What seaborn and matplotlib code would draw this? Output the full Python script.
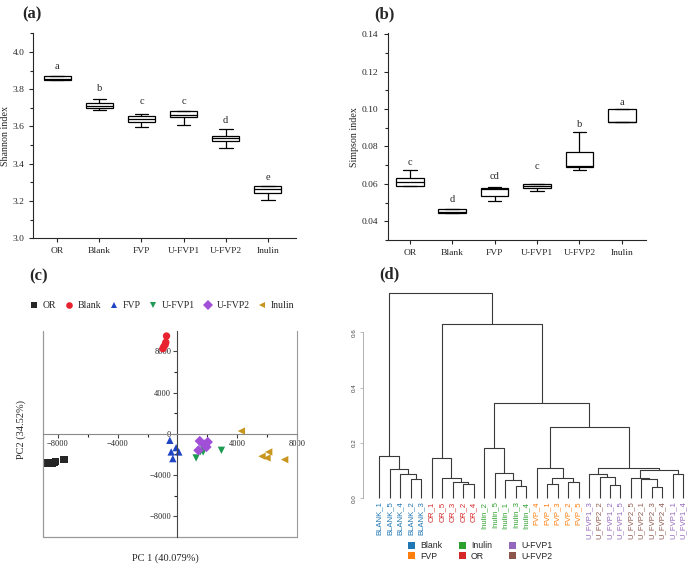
import numpy as np
import pandas as pd
import matplotlib
matplotlib.use("Agg")
import matplotlib.pyplot as plt
import seaborn as sns
from matplotlib.ticker import MultipleLocator, FixedLocator, FormatStrFormatter
from matplotlib.patches import Patch

# ---------------- data ----------------
groups = ["OR", "Blank", "FVP", "U-FVP1", "U-FVP2", "Inulin"]

# (a) Shannon index five-number summaries
shannon_min = [3.848, 3.690, 3.597, 3.608, 3.487, 3.203]
shannon_q1 = [3.848, 3.697, 3.625, 3.651, 3.520, 3.244]
shannon_med = [3.856, 3.711, 3.640, 3.663, 3.538, 3.267]
shannon_q3 = [3.873, 3.724, 3.654, 3.681, 3.550, 3.281]
shannon_max = [3.873, 3.749, 3.665, 3.685, 3.588, 3.281]
shannon_letters = ["a", "b", "c", "c", "d", "e"]
shannon_letter_y = [3.923, 3.806, 3.735, 3.735, 3.633, 3.326]

# (b) Simpson index five-number summaries
simpson_min = [0.0588, 0.0445, 0.0507, 0.0564, 0.0673, 0.0930]
simpson_q1 = [0.0588, 0.0445, 0.0536, 0.0579, 0.0688, 0.0930]
simpson_med = [0.0611, 0.0448, 0.0575, 0.0589, 0.0696, 0.0930]
simpson_q3 = [0.0630, 0.0466, 0.0579, 0.0598, 0.0770, 0.0998]
simpson_max = [0.0675, 0.0466, 0.0582, 0.0600, 0.0875, 0.0998]
simpson_letters = ["c", "d", "cd", "c", "b", "a"]
simpson_letter_y = [0.0713, 0.0518, 0.0638, 0.0695, 0.0918, 0.1034]

# (c) PCA scores
pc1_OR = [-8667, -8356, -8244, -8133, -7578]
pc2_OR = [-2839, -2839, -2774, -2710, -2484]
pc1_Blank = [-733, -778, -822, -911, -978]
pc2_Blank = [9484, 8871, 8645, 8452, 8258]
pc1_FVP = [-511, -89, -422, 89, -311]
pc2_FVP = [-645, -1355, -1774, -1774, -2419]
pc1_UFVP1 = [1244, 1711, 1533, 2933, 1756]
pc2_UFVP1 = [-2355, -1774, -1742, -1613, -1548]
pc1_UFVP2 = [1489, 2022, 1933, 1800, 1400]
pc2_UFVP2 = [-710, -806, -1290, -1065, -1613]
pc1_Inulin = [4267, 5644, 5978, 6089, 7156]
pc2_Inulin = [258, -2194, -2355, -1774, -2516]

# (d) hierarchical clustering tree: (left, right, merge height)
tree_blank = ("BLANK_1", ("BLANK_5", ("BLANK_4", ("BLANK_2", "BLANK_3", 0.069), 0.088), 0.105), 0.153)
tree_or = ("OR_1", ("OR_5", ("OR_3", ("OR_2", "OR_4", 0.051), 0.058), 0.075), 0.147)
tree_inulin = ("Inulin_2", ("Inulin_5", ("Inulin_1", ("Inulin_3", "Inulin_4", 0.044), 0.065), 0.090), 0.181)
tree_fvp = ("FVP_4", (("FVP_1", "FVP_3", 0.051), ("FVP_2", "FVP_5", 0.060), 0.075), 0.108)
tree_u_left = ("U_FVP1_3", ("U_FVP2_2", ("U_FVP1_2", "U_FVP1_5", 0.048), 0.078), 0.087)
tree_u_right = (("U_FVP2_5", ("U_FVP2_1", ("U_FVP2_3", "U_FVP2_4", 0.041), 0.069), 0.075),
                ("U_FVP1_1", "U_FVP1_4", 0.087), 0.102)
tree_u = (tree_u_left, tree_u_right, 0.110)
tree_root = (tree_blank, (tree_or, (tree_inulin, (tree_fvp, tree_u, 0.259), 0.343), 0.630), 0.741)
dendro_groups = ["Blank", "FVP", "Inulin", "OR", "U-FVP1", "U-FVP2"]

# ---------------- style ----------------
sns.set_style("ticks")
plt.rcParams["font.family"] = ["Liberation Serif", "DejaVu Sans"]
plt.rcParams["axes.linewidth"] = 0.8

fig = plt.figure(figsize=(6.96, 5.66), dpi=100)
W, H = 696.0, 566.0


def ax_px(x0, y0, x1, y1):
    return fig.add_axes([x0 / W, 1 - y1 / H, (x1 - x0) / W, (y1 - y0) / H])


def long_df(mins, q1s, meds, q3s, maxs):
    rows = []
    for g, a, b, c, d, e in zip(groups, mins, q1s, meds, q3s, maxs):
        for v in (a, b, c, d, e):
            rows.append((g, v))
    return pd.DataFrame(rows, columns=["group", "value"])


def box_panel(ax, df, letters, letter_y, ylabel):
    sns.boxplot(data=df, x="group", y="value", order=groups, whis=(0, 100),
                width=0.65, color="white", linecolor="black", linewidth=0.9,
                fliersize=0, ax=ax)
    for i, (t, y) in enumerate(zip(letters, letter_y)):
        ax.text(i, y, t, ha="center", va="center", fontsize=7.5)
    ax.spines[["top", "right"]].set_visible(False)
    ax.set_xlabel("")
    ax.set_ylabel(ylabel, fontsize=7.2)
    ax.tick_params(axis="both", labelsize=6.8, length=3, width=0.8, direction="out")
    ax.tick_params(axis="y", which="minor", length=2, width=0.8)


# (a)
axA = ax_px(33.3, 33.3, 296, 238.3)
box_panel(axA, long_df(shannon_min, shannon_q1, shannon_med, shannon_q3, shannon_max),
          shannon_letters, shannon_letter_y, "Shannon index")
axA.set_xlim(-0.57, 5.67)
axA.set_ylim(3.0, 4.1)
axA.yaxis.set_major_locator(MultipleLocator(0.2))
axA.yaxis.set_minor_locator(MultipleLocator(0.1))
axA.yaxis.set_major_formatter(FormatStrFormatter("%.1f"))
axA.yaxis.set_label_coords(-0.09, 0.5)

# (b)
axB = ax_px(387.7, 33.3, 646, 240)
box_panel(axB, long_df(simpson_min, simpson_q1, simpson_med, simpson_q3, simpson_max),
          simpson_letters, simpson_letter_y, "Simpson index")
axB.set_xlim(-0.52, 5.57)
axB.set_ylim(0.03, 0.1405)
axB.yaxis.set_major_locator(FixedLocator([0.04, 0.06, 0.08, 0.10, 0.12, 0.14]))
axB.yaxis.set_minor_locator(FixedLocator([0.03, 0.05, 0.07, 0.09, 0.11, 0.13]))
axB.yaxis.set_major_formatter(FormatStrFormatter("%.2f"))
axB.yaxis.set_label_coords(-0.11, 0.5)

# (c) PCA
pca_df = pd.DataFrame({
    "PC1": pc1_OR + pc1_Blank + pc1_FVP + pc1_UFVP1 + pc1_UFVP2 + pc1_Inulin,
    "PC2": pc2_OR + pc2_Blank + pc2_FVP + pc2_UFVP1 + pc2_UFVP2 + pc2_Inulin,
    "group": sum([[g] * 5 for g in groups], []),
})
pca_colors = {"OR": "#262626", "Blank": "#e8222e", "FVP": "#1f44c4",
              "U-FVP1": "#1e9a52", "U-FVP2": "#a24fd8", "Inulin": "#c8961f"}
pca_markers = {"OR": "s", "Blank": "o", "FVP": "^", "U-FVP1": "v",
               "U-FVP2": "D", "Inulin": "<"}
axC = ax_px(42.7, 330.7, 297.3, 536.7)
sns.scatterplot(data=pca_df, x="PC1", y="PC2", hue="group", style="group",
                hue_order=groups, style_order=groups, palette=pca_colors,
                markers=pca_markers, s=28, linewidth=0, ax=axC)
axC.set_xlim(-9000, 8000)
axC.set_ylim(-10000, 10000)
axC.spines["left"].set_position(("data", 0))
axC.spines["bottom"].set_position(("data", 0))
axC.spines["left"].set_color("#444444")
axC.spines["bottom"].set_color("#8a8a8a")
axC.spines["top"].set_visible(False)
axC.spines["right"].set_color("#9a9a9a")
axC.plot([0, 0, 1], [1, 0, 0], transform=axC.transAxes, color="#9a9a9a",
         lw=0.9, clip_on=False)
axC.xaxis.set_major_locator(FixedLocator([-8000, -4000, 4000, 8000]))
axC.xaxis.set_minor_locator(FixedLocator([-6000, -2000, 2000, 6000]))
axC.yaxis.set_major_locator(FixedLocator([-8000, -4000, 0, 4000, 8000]))
axC.yaxis.set_minor_locator(FixedLocator([-6000, -2000, 2000, 6000]))
axC.tick_params(axis="both", labelsize=6, length=3, width=0.8, direction="out",
                color="#444444", pad=1.5)
axC.tick_params(axis="both", which="minor", length=2, width=0.8)
axC.set_xlabel("PC 1 (40.079%)", fontsize=7.5)
axC.set_ylabel("PC2 (34.52%)", fontsize=7.5)
axC.xaxis.set_label_coords(0.483, -0.079)
axC.yaxis.set_label_coords(-0.065, 0.52)
sns.move_legend(axC, "center", bbox_to_anchor=(0.47, 1.12), ncol=6, frameon=False,
                title=None, fontsize=7, handletextpad=0.5, columnspacing=0.9,
                handlelength=0.8, markerscale=0.9)

# (d) dendrogram
sans = ["Liberation Sans", "DejaVu Sans"]
dcolors = dict(zip(dendro_groups, ["#1f77b4", "#ff7f0e", "#2ca02c", "#d62728",
                                   "#9467bd", "#8c564b"]))


def leaf_group(name):
    if name.startswith("BLANK"):
        return "Blank"
    if name.startswith("OR"):
        return "OR"
    if name.startswith("Inulin"):
        return "Inulin"
    if name.startswith("U_FVP1"):
        return "U-FVP1"
    if name.startswith("U_FVP2"):
        return "U-FVP2"
    return "FVP"


axD = ax_px(362.7, 290.8, 696, 498.3)
leaves = []


def draw(node):
    if isinstance(node, str):
        leaves.append(node)
        return float(len(leaves) - 1), 0.0
    left, right, h = node
    xl, hl = draw(left)
    xr, hr = draw(right)
    axD.plot([xl, xl, xr, xr], [hl, h, h, hr], color="#3a3a3a", lw=0.8,
             solid_capstyle="butt", clip_on=False)
    return (xl + xr) / 2.0, h


draw(tree_root)
for i, name in enumerate(leaves):
    axD.text(i, -0.012, name, rotation=90, ha="center", va="top", fontsize=5.6,
             family=sans, color=dcolors[leaf_group(name)])
axD.set_xlim(-1.58, 30.2)
axD.set_ylim(0, 0.75)
axD.spines[["top", "right", "bottom"]].set_visible(False)
axD.spines["left"].set_bounds(0, 0.6)
axD.spines["left"].set_color("#b0b0b0")
axD.spines["left"].set_linewidth(0.7)
axD.set_xticks([])
axD.set_yticks([0.0, 0.2, 0.4, 0.6])
axD.set_yticklabels(["0.0", "0.2", "0.4", "0.6"], rotation=90, va="center",
                    fontsize=4.5, family=sans, color="#444444")
axD.tick_params(axis="y", length=2.5, width=0.6, color="#b0b0b0", pad=2)
axD.patch.set_alpha(0)

handles = [Patch(facecolor=dcolors[g], edgecolor="none", label=g) for g in dendro_groups]
fig.legend(handles=handles, loc="center", bbox_to_anchor=(480 / W, 1 - 551 / H),
           ncol=3, frameon=False, prop={"family": sans, "size": 6.3},
           handlelength=0.8, handleheight=0.8, handletextpad=0.6,
           columnspacing=1.9, labelspacing=0.15)

# panel letters
for t, x, y in [("(a)", 22, 14), ("(b)", 374, 14), ("(c)", 29, 276), ("(d)", 379, 274)]:
    fig.text(x / W, 1 - y / H, t, fontsize=12, fontweight="bold", va="center", ha="left")

fig.savefig("out.png", dpi=100)
